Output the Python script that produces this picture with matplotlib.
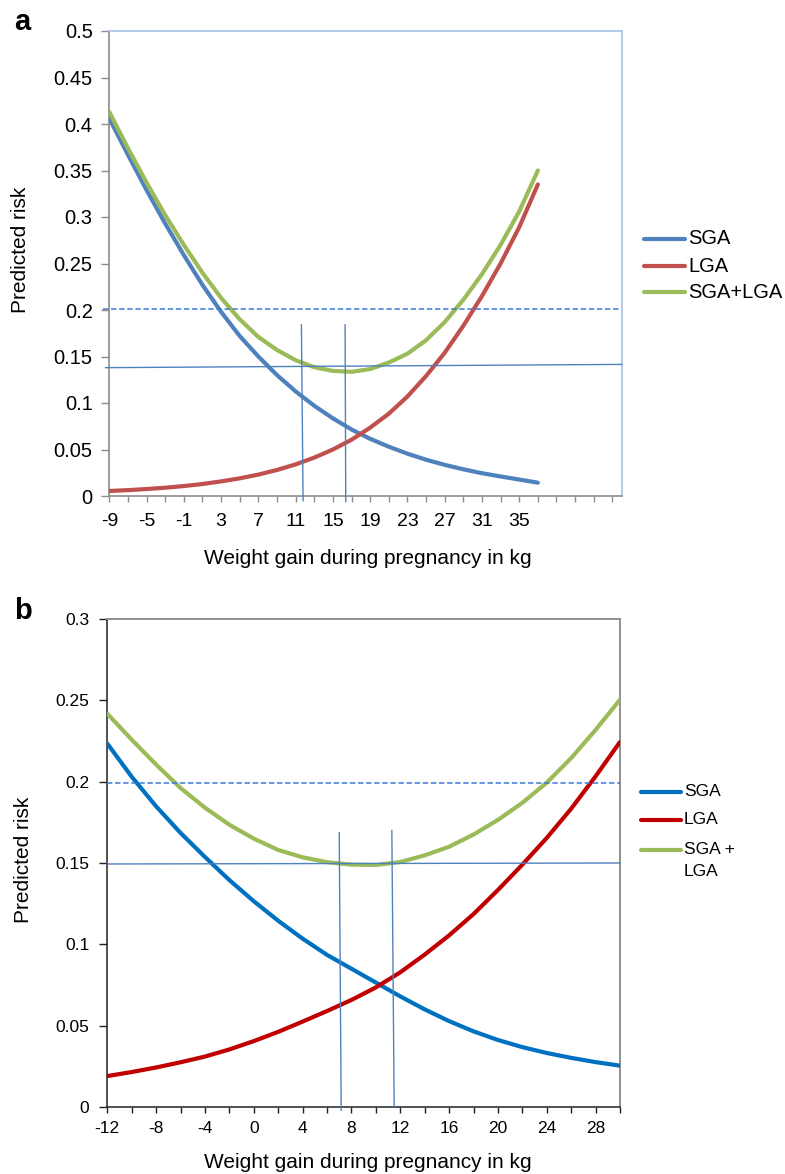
import matplotlib
matplotlib.use('Agg')
import matplotlib.pyplot as plt
from matplotlib.lines import Line2D

plt.rcParams['font.family'] = ['Liberation Sans', 'DejaVu Sans']

# ---------------- Panel a data ----------------
A_X = [-9, -7, -5, -3, -1, 1, 3, 5, 7, 9, 11, 13, 15, 17, 19, 21, 23, 25, 27, 29, 31, 33, 35, 37]
A_SGA = [0.406, 0.367, 0.329, 0.293, 0.259, 0.227, 0.198, 0.172, 0.150, 0.130, 0.1125, 0.097,
         0.0835, 0.0715, 0.0615, 0.053, 0.0455, 0.039, 0.0335, 0.0287, 0.0245, 0.021, 0.0177, 0.0143]
A_LGA = [0.0054, 0.0063, 0.0075, 0.0089, 0.0107, 0.0129, 0.0157, 0.019, 0.023, 0.028, 0.034, 0.0413,
         0.050, 0.0605, 0.0735, 0.0885, 0.107, 0.129, 0.154, 0.183, 0.215, 0.250, 0.289, 0.335]
A_BOTH = [0.413, 0.374, 0.337, 0.302, 0.270, 0.240, 0.213, 0.190, 0.171, 0.157, 0.146, 0.1385,
          0.1345, 0.1335, 0.1365, 0.1435, 0.153, 0.1675, 0.187, 0.211, 0.2385, 0.270, 0.306, 0.350]
A_XTICKS = list(range(-9, 46, 2))
A_XLABELED = [-9, -5, -1, 3, 7, 11, 15, 19, 23, 27, 31, 35]
A_YTICKS = [0, 0.05, 0.1, 0.15, 0.2, 0.25, 0.3, 0.35, 0.4, 0.45, 0.5]
A_YTICKLABELS = ['0', '0.05', '0.1', '0.15', '0.2', '0.25', '0.3', '0.35', '0.4', '0.45', '0.5']
A_DASH_X = [-9.7, 45.8]
A_DASH_Y = [0.201, 0.201]
A_HLINE_X = [-9.4, 46.0]
A_HLINE_Y = [0.138, 0.1415]
A_V1_X = [11.62, 11.80]
A_V1_Y = [0.184, -0.005]
A_V2_X = [16.31, 16.38]
A_V2_Y = [0.184, -0.006]

# ---------------- Panel b data ----------------
B_X = [-12, -10, -8, -6, -4, -2, 0, 2, 4, 6, 8, 10, 12, 14, 16, 18, 20, 22, 24, 26, 28, 30]
B_SGA = [0.2234, 0.2030, 0.1848, 0.1685, 0.1537, 0.1395, 0.1265, 0.1145, 0.1035, 0.0935, 0.0850,
         0.0765, 0.0680, 0.0600, 0.0528, 0.0465, 0.0412, 0.0368, 0.0332, 0.0302, 0.0276, 0.0254]
B_LGA = [0.019, 0.0215, 0.0243, 0.0275, 0.031, 0.0354, 0.0405, 0.0462, 0.0525, 0.0590, 0.0658,
         0.0735, 0.0828, 0.0937, 0.1055, 0.1186, 0.1334, 0.1490, 0.1654, 0.1834, 0.2033, 0.2244]
B_BOTH = [0.2418, 0.2258, 0.2105, 0.1961, 0.1840, 0.1735, 0.1650, 0.1580, 0.1535, 0.1505, 0.1490,
          0.1488, 0.1506, 0.1547, 0.1600, 0.1675, 0.1765, 0.1870, 0.1994, 0.2145, 0.2318, 0.2504]
B_XTICKS = list(range(-12, 31, 2))
B_XLABELED = [-12, -8, -4, 0, 4, 8, 12, 16, 20, 24, 28]
B_YTICKS = [0, 0.05, 0.1, 0.15, 0.2, 0.25, 0.3]
B_YTICKLABELS = ['0', '0.05', '0.1', '0.15', '0.2', '0.25', '0.3']
B_DASH_X = [-12, 30]
B_DASH_Y = [0.1994, 0.1994]
B_HLINE_X = [-12, 30]
B_HLINE_Y = [0.1494, 0.1500]
B_V1_X = [7.0, 7.16]
B_V1_Y = [0.1686, -0.002]
B_V2_X = [11.31, 11.50]
B_V2_Y = [0.170, 0.0]

W, H = 785, 1174
fig = plt.figure(figsize=(W / 100, H / 100), dpi=100)


def fx(px):
    return px / W


def fy(py):
    return 1 - py / H


REF = '#4f81bd'
DASH = '#3a7ad8'
CURVE_KW = dict(lw=3.0, solid_joinstyle='round', solid_capstyle='round', zorder=3)

# ---------------- Panel a ----------------
axA = fig.add_axes([fx(109.3), fy(496), fx(621.7 - 109.3), (496 - 31) / H])
axA.plot(A_X, A_SGA, color='#4F81BD', **CURVE_KW)
axA.plot(A_X, A_LGA, color='#C0504D', **CURVE_KW)
axA.plot(A_X, A_BOTH, color='#9BBB59', **CURVE_KW)
axA.plot(A_DASH_X, A_DASH_Y, color=DASH, lw=1.1, ls=(0, (3.5, 1.8)), clip_on=False, zorder=4)
axA.plot(A_HLINE_X, A_HLINE_Y, color=REF, lw=1.0, clip_on=False, zorder=4)
axA.plot(A_V1_X, A_V1_Y, color=REF, lw=1.0, clip_on=False, zorder=4)
axA.plot(A_V2_X, A_V2_Y, color=REF, lw=1.0, clip_on=False, zorder=4)
axA.set_xlim(-9, 46)
axA.set_ylim(0, 0.5)
axA.set_xticks(A_XTICKS)
axA.set_xticklabels([str(v) if v in A_XLABELED else '' for v in A_XTICKS])
axA.set_yticks(A_YTICKS)
axA.set_yticklabels(A_YTICKLABELS)
for s in ['left', 'bottom']:
    axA.spines[s].set_color('#8c8c8c')
    axA.spines[s].set_linewidth(1.2)
for s in ['top', 'right']:
    axA.spines[s].set_color('#a8c2ea')
    axA.spines[s].set_linewidth(1.2)
axA.tick_params(axis='x', direction='out', length=4, width=1, color='#8c8c8c', pad=8, labelsize=14)
axA.tick_params(axis='y', direction='out', length=6, width=1, color='#8c8c8c', pad=6, labelsize=14.5)

fig.text(fx(368), fy(559), 'Weight gain during pregnancy in kg', ha='center', va='center', fontsize=15)
fig.text(fx(21), fy(250), 'Predicted risk', ha='center', va='center', rotation=90, fontsize=15)
fig.text(fx(14), fy(22), 'a', ha='left', va='center', fontsize=21, fontweight='bold')

# legend a
for lab, col, yy in [('SGA', '#4F81BD', 239), ('LGA', '#C0504D', 266), ('SGA+LGA', '#9BBB59', 292)]:
    fig.add_artist(Line2D([fx(644), fx(685)], [fy(yy), fy(yy)], color=col, lw=3.0,
                          transform=fig.transFigure, solid_capstyle='round'))
    fig.text(fx(688), fy(yy), lab, ha='left', va='center', fontsize=14.5)

# ---------------- Panel b ----------------
axB = fig.add_axes([fx(107.3), fy(1107), fx(620 - 107.3), (1107 - 619) / H])
axB.plot(B_X, B_SGA, color='#0070C0', **CURVE_KW)
axB.plot(B_X, B_LGA, color='#C00000', **CURVE_KW)
axB.plot(B_X, B_BOTH, color='#9BBB59', **CURVE_KW)
axB.plot(B_DASH_X, B_DASH_Y, color=DASH, lw=1.1, ls=(0, (3.5, 1.8)), clip_on=False, zorder=4)
axB.plot(B_HLINE_X, B_HLINE_Y, color=REF, lw=1.0, clip_on=False, zorder=4)
axB.plot(B_V1_X, B_V1_Y, color=REF, lw=1.0, clip_on=False, zorder=4)
axB.plot(B_V2_X, B_V2_Y, color=REF, lw=1.0, clip_on=False, zorder=4)
axB.set_xlim(-12, 30)
axB.set_ylim(0, 0.3)
axB.set_xticks(B_XTICKS)
axB.set_xticklabels([str(v) if v in B_XLABELED else '' for v in B_XTICKS])
axB.set_yticks(B_YTICKS)
axB.set_yticklabels(B_YTICKLABELS)
for s in ['left', 'bottom']:
    axB.spines[s].set_color('#222222')
    axB.spines[s].set_linewidth(1.1)
for s in ['top', 'right']:
    axB.spines[s].set_color('#909090')
    axB.spines[s].set_linewidth(1.4)
axB.tick_params(axis='x', direction='out', length=4, width=1, color='#222222', pad=6, labelsize=12.5)
axB.tick_params(axis='y', direction='out', length=6, width=1, color='#222222', pad=7, labelsize=12.5)

fig.text(fx(368), fy(1162), 'Weight gain during pregnancy in kg', ha='center', va='center', fontsize=15)
fig.text(fx(24), fy(860), 'Predicted risk', ha='center', va='center', rotation=90, fontsize=15)
fig.text(fx(14), fy(611), 'b', ha='left', va='center', fontsize=21, fontweight='bold')

# legend b
for col, yy in [('#0070C0', 792), ('#C00000', 820), ('#9BBB59', 850)]:
    fig.add_artist(Line2D([fx(641), fx(681)], [fy(yy), fy(yy)], color=col, lw=3.0,
                          transform=fig.transFigure, solid_capstyle='round'))
fig.text(fx(684), fy(792), 'SGA', ha='left', va='center', fontsize=12.5)
fig.text(fx(684), fy(820), 'LGA', ha='left', va='center', fontsize=12.5)
fig.text(fx(684), fy(850), 'SGA +', ha='left', va='center', fontsize=12.5)
fig.text(fx(684), fy(871), 'LGA', ha='left', va='center', fontsize=12.5)

fig.savefig('out.png', dpi=100)
